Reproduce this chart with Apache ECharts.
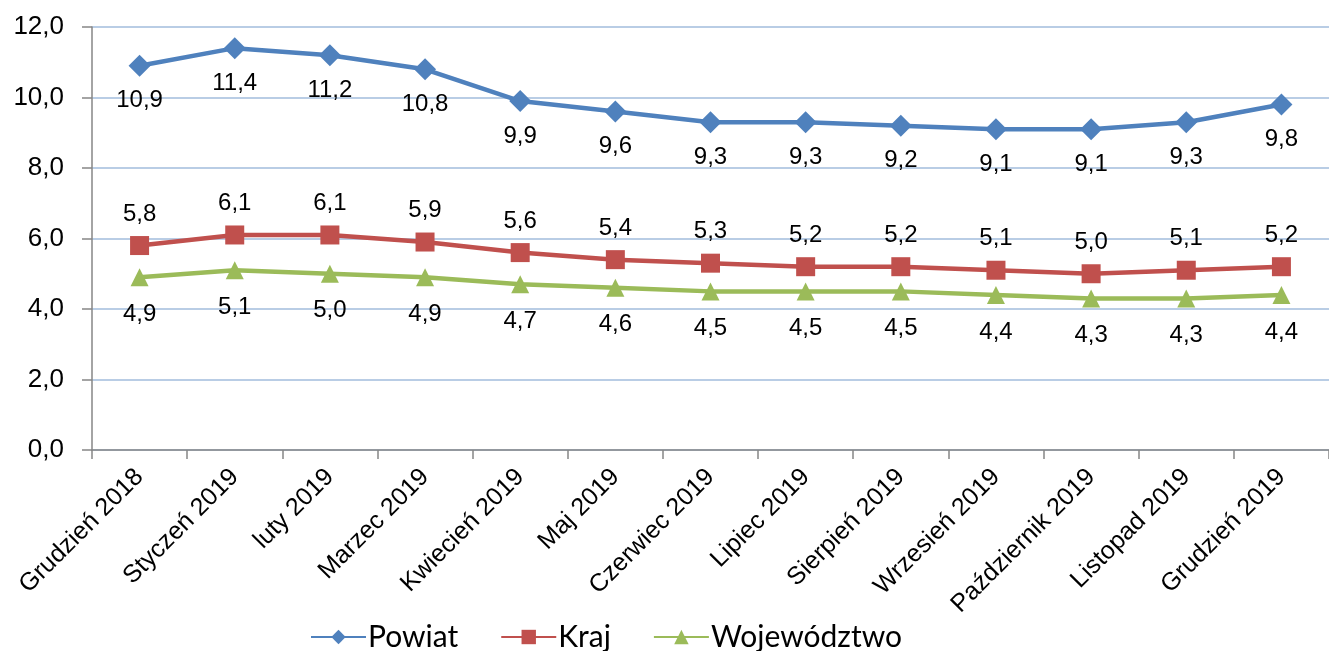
<!DOCTYPE html>
<html>
<head>
<meta charset="utf-8">
<script src="https://cdn.jsdelivr.net/npm/echarts@6/dist/echarts.min.js"></script>
<style>html,body{margin:0;padding:0;background:#fff;}#c{width:1329px;height:651px;}</style>
</head>
<body>
<div id="c"></div>
<script>
const categories = ['Grudzień 2018','Styczeń 2019','luty 2019','Marzec 2019','Kwiecień 2019','Maj 2019','Czerwiec 2019','Lipiec 2019','Sierpień 2019','Wrzesień 2019','Październik 2019','Listopad 2019','Grudzień 2019'];
const powiat = [10.9, 11.4, 11.2, 10.8, 9.9, 9.6, 9.3, 9.3, 9.2, 9.1, 9.1, 9.3, 9.8];
const kraj = [5.8, 6.1, 6.1, 5.9, 5.6, 5.4, 5.3, 5.2, 5.2, 5.1, 5.0, 5.1, 5.2];
const wojewodztwo = [4.9, 5.1, 5.0, 4.9, 4.7, 4.6, 4.5, 4.5, 4.5, 4.4, 4.3, 4.3, 4.4];

const fmt = v => v.toFixed(1).replace('.', ',');
const font = 'Liberation Sans, Arial, sans-serif';
const chart = echarts.init(document.getElementById('c'));
function mkSeries(name, data, color, symbol, size, pos, dist) {
  return {
    name, type: 'line', data, symbol, symbolSize: size,
    lineStyle: { color, width: 4.5 },
    itemStyle: { color },
    label: { show: true, position: pos, distance: dist, fontFamily: font, fontSize: 24, color: '#000',
      formatter: p => fmt(p.value) },
    emphasis: { disabled: true },
    animation: false
  };
}
chart.setOption({
  animation: false,
  grid: { left: 92, top: 27, width: 1248, height: 423 },
  legend: {
    top: 617, left: 305, itemWidth: 55, itemHeight: 18, itemGap: 42,
    textStyle: { fontFamily: 'Lato, sans-serif', fontSize: 30, color: '#000', padding: [0,0,0,-3] },
    data: ['Powiat', 'Kraj', 'Województwo']
  },
  xAxis: {
    type: 'category', data: categories, boundaryGap: true,
    axisLine: { lineStyle: { color: '#868686', width: 1.5 } },
    axisTick: { show: true, length: 9, lineStyle: { color: '#868686', width: 1.5 } },
    axisLabel: { rotate: 45, interval: 0, fontFamily: font, fontSize: 25, color: '#000', margin: 23 }
  },
  yAxis: {
    type: 'value', min: 0, max: 12, interval: 2,
    axisLine: { show: true, lineStyle: { color: '#868686', width: 1.5 } },
    axisTick: { show: true, length: 10, lineStyle: { color: '#868686', width: 1.5 } },
    axisLabel: { fontFamily: font, fontSize: 26, color: '#000', margin: 28, formatter: v => fmt(v) },
    splitLine: { lineStyle: { color: '#B9CDE5', width: 2 } }
  },
  series: [
    mkSeries('Powiat', powiat, '#4F81BD', 'diamond', 22, 'bottom', 12),
    mkSeries('Kraj', kraj, '#C0504D', 'rect', 19, 'top', 10),
    mkSeries('Województwo', wojewodztwo, '#9BBB59', 'triangle', 18, 'bottom', 16)
  ]
});
</script>
</body>
</html>
